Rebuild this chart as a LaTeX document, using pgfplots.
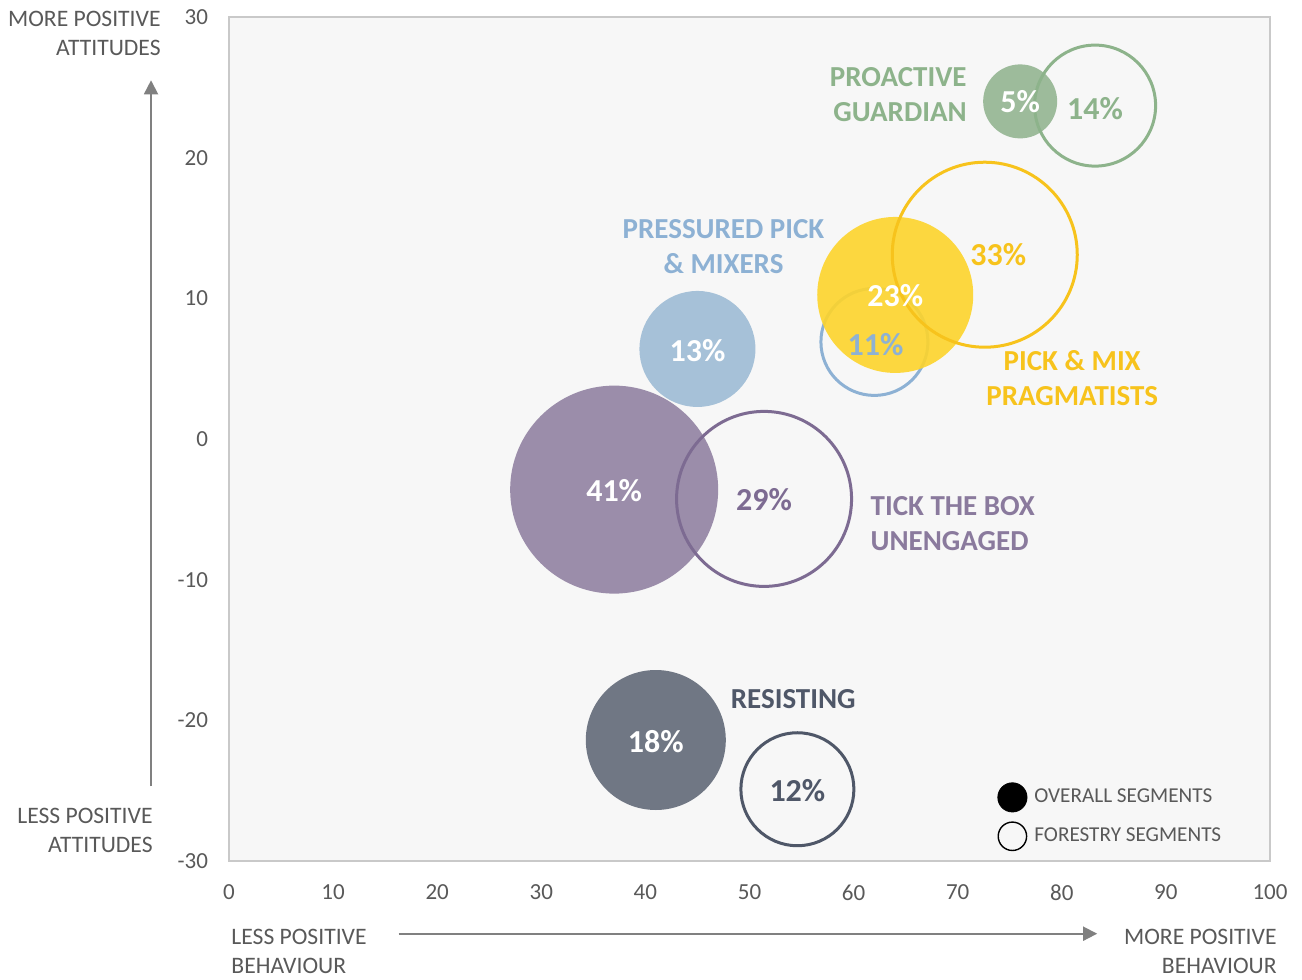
\documentclass[border=0pt]{standalone}
\usepackage{pgfplots}
\pgfplotsset{compat=1.18}
\usetikzlibrary{arrows.meta}
\usepackage{fontspec}
\setmainfont{Carlito}
\definecolor{bg}{HTML}{F7F7F7}
\definecolor{axisgrey}{HTML}{C9C9C9}
\definecolor{txtgrey}{HTML}{595959}
\definecolor{arrgrey}{HTML}{808080}
\definecolor{gfill}{HTML}{9DBB9B}
\definecolor{gline}{HTML}{8DB38B}
\definecolor{yfill}{HTML}{FDD42B}
\definecolor{yline}{HTML}{F7C31C}
\definecolor{bfill}{HTML}{A6C1D8}
\definecolor{bline}{HTML}{8DB1D4}
\definecolor{pfill}{HTML}{9B8DAA}
\definecolor{pline}{HTML}{7D6B92}
\definecolor{rfill}{HTML}{707784}
\definecolor{rline}{HTML}{4F5768}
\newcommand{\pct}{\fontsize{16}{18}\selectfont\bfseries}
\newcommand{\grp}{\fontsize{14.5}{17.5}\selectfont\bfseries}
\newcommand{\side}{\fontsize{11.8}{14.5}\selectfont}
\begin{document}
\begin{tikzpicture}
\begin{axis}[
  set layers,
  scale only axis, width=520.5pt, height=422pt,
  xmin=0, xmax=100, ymin=-30, ymax=30,
  xtick={0,10,...,100}, ytick={-30,-20,...,30},
  major tick length=0pt,
  axis line style={draw=axisgrey, line width=0.75pt},
  axis background/.style={fill=bg},
  tick label style={font=\fontsize{11.5}{13}\selectfont, text=txtgrey},
  xticklabel style={yshift=-8.5pt},
  yticklabel style={xshift=-7pt},
  /pgf/number format/assume math mode=true,
  clip=false,
  legend style={at={(axis cs:73.2,-24.1)}, anchor=north west, draw=none, fill=none,
    font=\fontsize{10.6}{12}\selectfont\color{txtgrey}, row sep=4.5pt},
  legend cell align=left,
]
% Pressured pick & mixers
\addplot[only marks, mark=*, mark size=29pt, mark options={fill=bfill, draw opacity=0}, forget plot] coordinates {(45,6.4)};
\addplot[only marks, mark=o, mark size=26.75pt, mark options={draw=bline, line width=1.5pt}, forget plot] coordinates {(62,6.9)};
% Pick & mix pragmatists
\addplot[only marks, mark=*, mark size=39pt, mark options={fill=yfill, fill opacity=0.9, draw opacity=0}, forget plot] coordinates {(64,10.24)};
\addplot[only marks, mark=o, mark size=46.25pt, mark options={draw=yline, line width=1.5pt}, forget plot] coordinates {(72.6,13.1)};
% Proactive guardian
\addplot[only marks, mark=*, mark size=18.5pt, mark options={fill=gfill, draw opacity=0}, forget plot] coordinates {(76,24)};
\addplot[only marks, mark=o, mark size=30.25pt, mark options={draw=gline, line width=1.5pt}, forget plot] coordinates {(83.2,23.7)};
% Tick the box
\addplot[only marks, mark=*, mark size=52pt, mark options={fill=pfill, draw opacity=0}, forget plot] coordinates {(37,-3.6)};
\addplot[only marks, mark=o, mark size=43.75pt, mark options={draw=pline, line width=1.5pt}, forget plot] coordinates {(51.4,-4.26)};
% Resisting
\addplot[only marks, mark=*, mark size=35pt, mark options={fill=rfill, draw opacity=0}, forget plot] coordinates {(41,-21.4)};
\addplot[only marks, mark=o, mark size=28.25pt, mark options={draw=rline, line width=1.5pt}, forget plot] coordinates {(54.6,-24.9)};

% legend
\addlegendimage{legend image code/.code={\fill[black] (7.5pt,0pt) circle (7.3pt); \path (16.3pt,0pt);}}
\addlegendentry{OVERALL SEGMENTS}
\addlegendimage{legend image code/.code={\draw[black, line width=0.7pt] (7.5pt,0pt) circle (7.1pt); \path (16.3pt,0pt);}}
\addlegendentry{FORESTRY SEGMENTS}

\begin{pgfonlayer}{axis foreground}
% percentages
\node[text=white, font=\pct] at (axis cs:76,24) {5\%};
\node[text=gline, font=\pct] at (axis cs:83.2,23.5) {14\%};
\node[text=white, font=\pct] at (axis cs:45,6.3) {13\%};
\node[text=white, font=\pct] at (axis cs:64,10.2) {23\%};
\node[text=yline, font=\pct] at (axis cs:73.9,13.1) {33\%};
\node[text=bline, font=\pct] at (axis cs:62.1,6.7) {11\%};
\node[text=white, font=\pct] at (axis cs:37,-3.7) {41\%};
\node[text=pline, font=\pct] at (axis cs:51.4,-4.3) {29\%};
\node[text=white, font=\pct] at (axis cs:41,-21.5) {18\%};
\node[text=rline, font=\pct] at (axis cs:54.6,-25.0) {12\%};

% group labels
\node[text=gline, font=\grp, align=right, anchor=east, inner sep=0pt] at (axis cs:70.9,24.5) {PROACTIVE\\GUARDIAN};
\node[text=bline, font=\grp, align=center, inner sep=0pt] at (axis cs:47.5,13.7) {PRESSURED PICK\\\& MIXERS};
\node[text=yline, font=\grp, align=center, inner sep=0pt] at (axis cs:81.0,4.34) {PICK \& MIX\\PRAGMATISTS};
\node[text=pline!90!white, font=\grp, align=left, anchor=west, inner sep=0pt] at (axis cs:61.6,-6.0) {TICK THE BOX\\UNENGAGED};
\node[text=rline, font=\grp, inner sep=0pt] at (axis cs:54.2,-18.5) {RESISTING};
\end{pgfonlayer}

% side labels and arrows
\node[text=txtgrey, font=\side, align=right, anchor=east, inner sep=0pt] at (axis cs:-6.53,28.86) {MORE POSITIVE\\ATTITUDES};
\node[text=txtgrey, font=\side, align=right, anchor=east, inner sep=0pt] at (axis cs:-7.3,-27.85) {LESS POSITIVE\\ATTITUDES};
\node[text=txtgrey, font=\side, align=left, anchor=west, inner sep=0pt] at (axis cs:0.2,-36.45) {LESS POSITIVE\\BEHAVIOUR};
\node[text=txtgrey, font=\side, align=right, anchor=east, inner sep=0pt] at (axis cs:100.67,-36.4) {MORE POSITIVE\\BEHAVIOUR};
\draw[arrgrey, line width=0.9pt, -{Triangle[length=7pt, width=7pt]}] (axis cs:-7.49,-24.7) -- (axis cs:-7.49,25.5);
\draw[arrgrey, line width=0.9pt, -{Triangle[length=7pt, width=7pt]}] (axis cs:16.3,-35.17) -- (axis cs:83.4,-35.17);

\coordinate (sw) at (rel axis cs:0,0);
\coordinate (ne) at (rel axis cs:1,1);
\end{axis}
\pgfresetboundingbox
\path[use as bounding box] ([xshift=-114.5pt,yshift=-59.5pt]sw) rectangle ([xshift=16pt,yshift=8.5pt]ne);
\end{tikzpicture}
\end{document}
